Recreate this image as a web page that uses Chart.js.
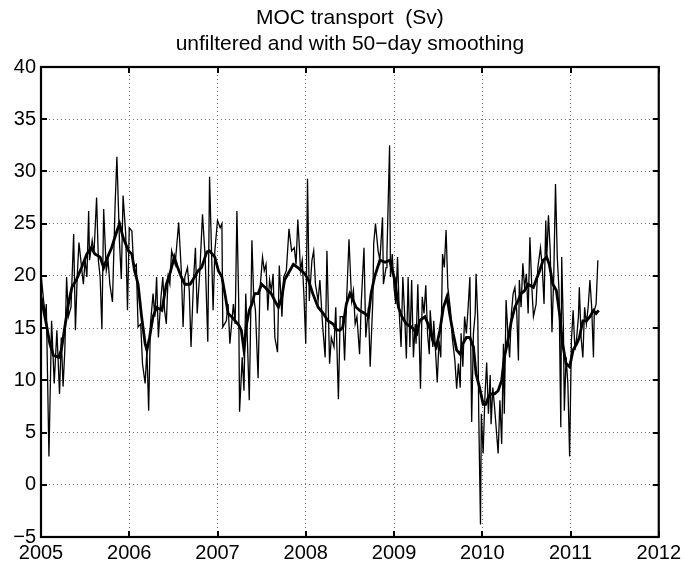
<!DOCTYPE html>
<html lang="en">
  <head>
    <title>MOC transport (Sv)</title>
    <meta charset="UTF-8" />
    <script src="https://cdn.jsdelivr.net/npm/chart.js@4.4.1/dist/chart.umd.min.js"></script>
    <style>
      html, body { margin: 0; padding: 0; background: #fff; }
    </style>
  </head>

  <body>
    <canvas id="moc" width="685" height="567"></canvas>

    <script>
      // unfiltered transport, decimal year / Sv
      const rawYears = [
        2005.0, 2005.03, 2005.05, 2005.06, 2005.09, 2005.12, 2005.15, 2005.18, 2005.21, 2005.23,
        2005.25, 2005.27, 2005.29, 2005.31, 2005.34, 2005.37, 2005.39, 2005.41, 2005.43, 2005.46,
        2005.48, 2005.5, 2005.52, 2005.54, 2005.55, 2005.58, 2005.6, 2005.63, 2005.65, 2005.67,
        2005.69, 2005.71, 2005.74, 2005.76, 2005.78, 2005.81, 2005.84, 2005.86, 2005.89, 2005.91,
        2005.93, 2005.96, 2005.98, 2006.0, 2006.03, 2006.05, 2006.08, 2006.1, 2006.13, 2006.15,
        2006.18, 2006.2, 2006.22, 2006.24, 2006.27, 2006.29, 2006.31, 2006.33, 2006.36, 2006.38,
        2006.4, 2006.42, 2006.44, 2006.46, 2006.48, 2006.52, 2006.54, 2006.56, 2006.59, 2006.61,
        2006.63, 2006.66, 2006.68, 2006.7, 2006.73, 2006.75, 2006.77, 2006.8, 2006.83, 2006.86,
        2006.89, 2006.91, 2006.95, 2006.97, 2007.0, 2007.03, 2007.05, 2007.06, 2007.1, 2007.12,
        2007.14, 2007.18, 2007.2, 2007.22, 2007.24, 2007.25, 2007.28, 2007.3, 2007.32, 2007.34,
        2007.36, 2007.37, 2007.39, 2007.41, 2007.43, 2007.46, 2007.48, 2007.51, 2007.53, 2007.55,
        2007.57, 2007.59, 2007.61, 2007.63, 2007.65, 2007.68, 2007.7, 2007.73, 2007.75, 2007.78,
        2007.81, 2007.84, 2007.87, 2007.89, 2007.91, 2007.93, 2007.94, 2007.96, 2007.98, 2008.0,
        2008.02, 2008.04, 2008.07, 2008.09, 2008.11, 2008.14, 2008.16, 2008.19, 2008.22, 2008.24,
        2008.27, 2008.29, 2008.32, 2008.34, 2008.37, 2008.39, 2008.42, 2008.44, 2008.46, 2008.49,
        2008.52, 2008.54, 2008.56, 2008.58, 2008.61, 2008.63, 2008.66, 2008.68, 2008.71, 2008.73,
        2008.76, 2008.77, 2008.79, 2008.82, 2008.84, 2008.87, 2008.88, 2008.91, 2008.92, 2008.95,
        2008.96, 2008.98, 2009.0, 2009.02, 2009.04, 2009.06, 2009.08, 2009.1, 2009.12, 2009.14,
        2009.16, 2009.18, 2009.2, 2009.22, 2009.24, 2009.25, 2009.27, 2009.3, 2009.32, 2009.34,
        2009.36, 2009.38, 2009.4, 2009.41, 2009.44, 2009.45, 2009.47, 2009.49, 2009.51, 2009.53,
        2009.55, 2009.57, 2009.59, 2009.61, 2009.64, 2009.66, 2009.69, 2009.71, 2009.73, 2009.75,
        2009.76, 2009.78, 2009.8, 2009.82, 2009.84, 2009.86, 2009.88, 2009.9, 2009.92, 2009.93,
        2009.95, 2009.96, 2009.98, 2009.99, 2010.01, 2010.03, 2010.05, 2010.07, 2010.09, 2010.1,
        2010.12, 2010.14, 2010.16, 2010.18, 2010.2, 2010.22, 2010.24, 2010.25, 2010.27, 2010.29,
        2010.31, 2010.33, 2010.35, 2010.37, 2010.39, 2010.41, 2010.42, 2010.44, 2010.46, 2010.48,
        2010.5, 2010.52, 2010.54, 2010.56, 2010.58, 2010.61, 2010.63, 2010.66, 2010.68, 2010.7,
        2010.72, 2010.73, 2010.75, 2010.77, 2010.79, 2010.81, 2010.83, 2010.85, 2010.87, 2010.89,
        2010.9, 2010.92, 2010.93, 2010.95, 2010.97, 2010.99, 2011.01, 2011.03, 2011.05, 2011.07,
        2011.09, 2011.1, 2011.12, 2011.14, 2011.16, 2011.18, 2011.2, 2011.22, 2011.24, 2011.26,
        2011.27, 2011.29, 2011.31,
      ]
      const rawSv = [
        20.2, 17.6, 16.1, 17.3, 2.7, 15.7, 9.7, 14.8, 8.7, 14.1,
        9.4, 12.9, 19.9, 16.1, 17.0, 24.0, 14.8, 19.9, 23.2, 20.8,
        19.2, 21.5, 19.9, 26.2, 21.5, 23.4, 22.1, 27.5, 21.5, 19.9,
        14.9, 26.4, 20.5, 21.5, 19.2, 17.5, 26.9, 31.4, 23.1, 19.7,
        27.7, 24.0, 16.7, 24.6, 24.3, 20.8, 21.1, 15.1, 15.4, 11.6,
        9.7, 12.9, 7.1, 15.4, 18.3, 16.1, 19.9, 14.1, 18.0, 19.9,
        16.7, 15.4, 19.9, 19.2, 22.4, 21.1, 23.1, 25.1, 20.5, 15.1,
        19.9, 20.8, 18.6, 13.2, 19.9, 22.7, 16.4, 20.5, 25.9, 21.8,
        13.7, 29.5, 16.7, 22.4, 25.3, 24.6, 25.0, 15.1, 15.7, 17.3,
        13.5, 17.3, 15.4, 26.2, 17.6, 7.0, 12.2, 9.0, 18.3, 13.5,
        8.1, 12.9, 23.4, 18.0, 16.7, 10.2, 18.6, 21.8, 20.5, 21.1,
        16.7, 19.6, 18.6, 20.2, 14.1, 12.7, 21.0, 16.1, 19.9, 20.5,
        24.5, 22.4, 22.7, 21.1, 25.4, 22.4, 20.5, 21.5, 18.0, 13.5,
        29.3, 17.6, 21.5, 22.4, 19.2, 17.6, 19.6, 15.4, 12.2, 22.4,
        11.6, 14.1, 13.2, 17.0, 8.2, 16.1, 16.1, 11.9, 17.0, 23.5,
        17.6, 18.6, 15.4, 16.1, 12.5, 17.6, 22.7, 14.1, 17.0, 11.3,
        17.6, 23.1, 25.0, 22.4, 21.5, 25.6, 19.2, 20.8, 22.1, 32.5,
        19.9, 22.1, 18.9, 17.3, 21.8, 16.4, 13.2, 19.9, 16.4, 12.1,
        19.9, 13.2, 19.6, 12.2, 15.4, 13.5, 19.2, 9.2, 18.0, 16.4,
        19.1, 14.5, 12.5, 16.7, 13.2, 15.7, 12.9, 9.8, 13.8, 12.2,
        22.1, 20.8, 24.4, 18.9, 16.7, 14.1, 11.9, 9.2, 11.6, 9.3,
        14.5, 11.3, 16.1, 14.5, 17.0, 19.9, 6.0, 14.5, 16.4, 20.2,
        15.7, 6.8, -3.8, 6.8, 3.0, 8.4, 11.7, 6.8, 10.5, 5.8,
        9.3, 7.4, 5.2, 3.0, 8.1, 3.9, 13.5, 6.8, 17.7, 14.5,
        12.2, 16.4, 18.3, 18.9, 16.7, 11.9, 19.6, 17.0, 21.2, 18.9,
        20.2, 16.4, 23.7, 19.2, 16.1, 17.3, 20.8, 22.7, 20.8, 17.3,
        25.3, 21.5, 25.8, 22.4, 14.6, 19.9, 28.8, 21.8, 18.6, 5.5,
        21.8, 14.8, 7.1, 12.2, 9.7, 2.7, 13.8, 16.7, 12.9, 14.1,
        16.1, 18.9, 14.1, 12.2, 17.0, 15.4, 17.0, 19.6, 17.0, 12.2,
        16.7, 17.3, 21.5,
      ]

      // 50-day smoothed transport
      const smoothYears = [
        2005.0, 2005.06, 2005.1, 2005.14, 2005.2, 2005.23, 2005.27, 2005.31, 2005.35, 2005.4,
        2005.46, 2005.52, 2005.57, 2005.61, 2005.67, 2005.71, 2005.74, 2005.8, 2005.86, 2005.89,
        2005.93, 2005.99, 2006.03, 2006.06, 2006.1, 2006.14, 2006.18, 2006.2, 2006.23, 2006.27,
        2006.31, 2006.37, 2006.42, 2006.46, 2006.51, 2006.54, 2006.59, 2006.63, 2006.69, 2006.74,
        2006.78, 2006.82, 2006.88, 2006.91, 2006.97, 2007.01, 2007.05, 2007.09, 2007.12, 2007.16,
        2007.2, 2007.24, 2007.27, 2007.3, 2007.33, 2007.36, 2007.39, 2007.42, 2007.46, 2007.5,
        2007.54, 2007.57, 2007.61, 2007.65, 2007.69, 2007.73, 2007.76, 2007.8, 2007.86, 2007.91,
        2007.95, 2007.99, 2008.03, 2008.08, 2008.14, 2008.2, 2008.25, 2008.31, 2008.35, 2008.39,
        2008.42, 2008.46, 2008.5, 2008.54, 2008.57, 2008.61, 2008.67, 2008.71, 2008.74, 2008.78,
        2008.84, 2008.9, 2008.95, 2009.01, 2009.05, 2009.09, 2009.14, 2009.2, 2009.26, 2009.29,
        2009.35, 2009.4, 2009.44, 2009.48, 2009.52, 2009.56, 2009.6, 2009.63, 2009.67, 2009.71,
        2009.75, 2009.78, 2009.82, 2009.86, 2009.9, 2009.93, 2009.97, 2010.01, 2010.04, 2010.07,
        2010.1, 2010.14, 2010.18, 2010.22, 2010.25, 2010.29, 2010.33, 2010.37, 2010.41, 2010.44,
        2010.48, 2010.52, 2010.58, 2010.61, 2010.65, 2010.69, 2010.73, 2010.76, 2010.8, 2010.84,
        2010.88, 2010.91, 2010.95, 2010.99, 2011.03, 2011.07, 2011.1, 2011.14, 2011.18, 2011.22,
        2011.26, 2011.29, 2011.32,
      ]
      const smoothSv = [
        18.0, 15.4, 13.5, 12.4, 12.2, 12.9, 15.1, 17.3, 18.9, 19.6,
        20.8, 22.1, 22.7, 22.1, 21.8, 20.8, 21.5, 22.7, 24.3, 25.0,
        23.7, 22.4, 22.1, 20.5, 19.2, 16.1, 13.5, 12.9, 14.1, 16.1,
        17.0, 16.7, 19.2, 20.2, 21.8, 21.0, 19.9, 19.2, 19.2, 19.9,
        20.5, 20.8, 22.3, 22.4, 21.8, 20.5, 19.9, 18.0, 16.4, 16.1,
        15.7, 15.3, 14.8, 12.9, 15.4, 16.7, 17.3, 18.3, 18.3, 19.2,
        18.9, 18.6, 18.3, 17.6, 17.0, 18.0, 19.6, 20.2, 21.1, 20.8,
        20.5, 20.2, 19.6, 18.3, 17.0, 16.4, 15.7, 15.4, 14.8, 14.8,
        15.1, 17.3, 18.3, 17.6, 17.0, 16.7, 16.4, 16.1, 18.3, 19.9,
        21.5, 21.3, 21.5, 19.6, 17.0, 16.1, 15.4, 15.1, 14.5, 15.7,
        16.1, 15.1, 13.8, 13.2, 14.8, 17.0, 18.0, 16.4, 14.5, 12.9,
        12.5, 13.5, 14.1, 14.1, 13.2, 10.6, 9.3, 7.7, 7.7, 8.4,
        8.7, 8.7, 9.0, 10.0, 12.2, 13.8, 15.7, 17.0, 17.7, 18.3,
        18.6, 19.2, 18.9, 19.6, 20.5, 21.5, 21.8, 21.1, 19.2, 18.6,
        16.1, 13.5, 11.6, 11.3, 12.9, 13.5, 14.1, 15.7, 15.7, 16.1,
        16.7, 16.4, 16.7,
      ]

      const titleLines = ['MOC transport  (Sv)', 'unfiltered and with 50\u2212day smoothing']
      const xTicks = { min: 2005, max: 2012, step: 1 }
      const yTicks = { min: -5, max: 40, step: 5 }

      const toPoints = (xs, ys) => xs.map((x, i) => ({ x: x, y: ys[i] }))

      const fontFamily = '"Liberation Sans", Arial, Helvetica, sans-serif'

      // black box round the axes with short inward ticks on all four sides
      const boxAndTicks = {
        id: 'boxAndTicks',
        afterDatasetsDraw(chart) {
          const { ctx, chartArea: a, scales } = chart
          const len = 6
          ctx.save()
          ctx.strokeStyle = '#000'
          ctx.lineWidth = 2
          ctx.beginPath()
          scales.x.ticks.forEach((t) => {
            const px = Math.round(scales.x.getPixelForValue(t.value))
            ctx.moveTo(px, a.bottom)
            ctx.lineTo(px, a.bottom - len)
            ctx.moveTo(px, a.top)
            ctx.lineTo(px, a.top + len)
          })
          scales.y.ticks.forEach((t) => {
            const py = Math.round(scales.y.getPixelForValue(t.value))
            ctx.moveTo(a.left, py)
            ctx.lineTo(a.left + len, py)
            ctx.moveTo(a.right, py)
            ctx.lineTo(a.right - len, py)
          })
          ctx.stroke()
          ctx.lineWidth = 2.2
          ctx.strokeRect(a.left, a.top, a.right - a.left, a.bottom - a.top)
          ctx.restore()
        },
      }

      const ctx = document.getElementById('moc').getContext('2d')
      new Chart(ctx, {
        type: 'line',
        data: {
          datasets: [
            {
              label: '50-day smoothing',
              data: toPoints(smoothYears, smoothSv),
              borderColor: '#000',
              borderWidth: 2.8,
              pointRadius: 0,
              tension: 0,
              order: 0,
            },
            {
              label: 'unfiltered',
              data: toPoints(rawYears, rawSv),
              borderColor: '#000',
              borderWidth: 1.3,
              pointRadius: 0,
              tension: 0,
              order: 1,
            },
          ],
        },
        options: {
          responsive: false,
          animation: false,
          layout: { padding: { left: 0, right: 26, top: 0, bottom: 0 } },
          scales: {
            x: {
              type: 'linear',
              min: xTicks.min,
              max: xTicks.max,
              afterFit: (scale) => { scale.height = 30 },
              ticks: {
                stepSize: xTicks.step,
                color: '#000',
                padding: 4,
                maxRotation: 0,
                font: { family: fontFamily, size: 20 },
                callback: (v) => String(v),
              },
              grid: { color: '#6a6a6a', lineWidth: 1, drawTicks: false },
              border: { display: false, dash: [1, 3] },
            },
            y: {
              min: yTicks.min,
              max: yTicks.max,
              afterFit: (scale) => { scale.width = 41 },
              ticks: {
                stepSize: yTicks.step,
                color: '#000',
                padding: 5,
                font: { family: fontFamily, size: 20 },
                callback: (v) => (v < 0 ? '\u2212' + Math.abs(v) : String(v)),
              },
              grid: { color: '#6a6a6a', lineWidth: 1, drawTicks: false },
              border: { display: false, dash: [1, 3] },
            },
          },
          plugins: {
            legend: { display: false },
            tooltip: { enabled: false },
            title: {
              display: true,
              fullSize: false,
              text: titleLines,
              color: '#000',
              font: { family: fontFamily, size: 21, weight: 'normal', lineHeight: 1.2 },
              padding: { top: 6, bottom: 10.6 },
            },
          },
        },
        plugins: [boxAndTicks],
      })
    </script>
  </body>
</html>
